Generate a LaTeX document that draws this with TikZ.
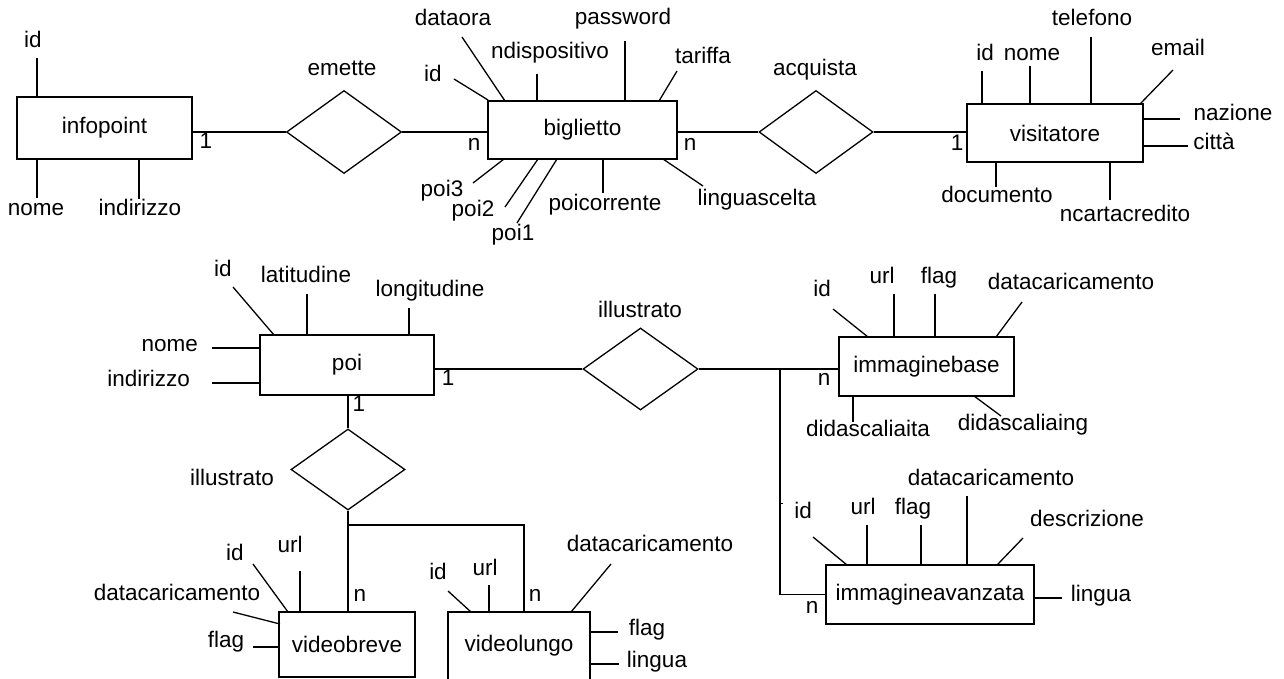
\documentclass[tikz,border=0pt]{standalone}
\usepackage{fontspec}
\setmainfont{Liberation Sans}
\usetikzlibrary{shapes.geometric}
\newcommand{\attrib}[5]{%
  \node[lbl] (#1) at (#2) {#3};
  \coordinate (#1-a) at (#4);
  \coordinate (#1-b) at (#5);
  \draw[conn] (#1-a) -- (#1-b);}
\begin{document}
\begin{tikzpicture}[x=1pt,y=-1pt,
  font=\fontsize{22.5}{27}\selectfont,
  conn/.style={line width=1.3pt, black},
  entity/.style={draw, line width=1.3pt, rectangle, inner sep=0pt},
  relation/.style={draw, line width=1.3pt, diamond, inner sep=0pt, aspect=1.4},
  lbl/.style={inner sep=0pt, text height=0.9em, text depth=0.24em},
  card/.style={lbl}]
\useasboundingbox (0,0) rectangle (1284,678);

% entities
\node[entity, minimum width=175pt, minimum height=62pt] (infopoint) at (104.5,128) {infopoint};
\node[entity, minimum width=189pt, minimum height=58pt] (biglietto) at (582.5,130) {biglietto};
\node[entity, minimum width=176pt, minimum height=58pt] (visitatore) at (1055,133) {visitatore};
\node[entity, minimum width=174pt, minimum height=60pt] (poi) at (347,365) {poi};
\node[entity, minimum width=175pt, minimum height=59pt] (imgbase) at (926.5,366.5) {immaginebase};
\node[entity, minimum width=208pt, minimum height=59pt] (imgadv) at (930,594.5) {immagineavanzata};
\node[entity, minimum width=136pt, minimum height=65pt] (vbreve) at (347,644.5) {videobreve};
\node[entity, minimum width=142pt, minimum height=68pt] (vlungo) at (519,646) {videolungo};

% relationships
\node[relation, minimum width=115pt, minimum height=83pt] (emette) at (344,132) {};
\node[relation, minimum width=114pt, minimum height=83pt] (acquista) at (816,132) {};
\node[relation, minimum width=115pt, minimum height=82pt] (illA) at (640.5,369) {};
\node[relation, minimum width=114pt, minimum height=81pt] (illB) at (348,469.5) {};

\node[lbl] (emettelbl) at (342,72) {emette};
\node[lbl] (acquistalbl) at (815,72) {acquista};
\node[lbl] (illAlbl) at (640,314) {illustrato};
\node[lbl] (illBlbl) at (232,482) {illustrato};

% connectors
\draw[conn] (emette.west) -- (emette.west -| infopoint.east);
\draw[conn] (emette.east) -- (emette.east -| biglietto.west);
\draw[conn] (acquista.west -| biglietto.east) -- (acquista.west);
\draw[conn] (acquista.east) -- (acquista.east -| visitatore.west);
\draw[conn] (illA.west -| poi.east) -- (illA.west);
\draw[conn] (illA.east) -- (illA.east -| imgbase.west);
\coordinate (brA) at (780,369);
\draw[conn] (brA) |- (imgadv.west);
\coordinate (tick) at (782.5,503);
\draw[line width=1pt] (780,503) -- (tick);
\draw[conn] (illB.north) -- (illB.north |- poi.south);
\draw[conn] (illB.south) -- (illB.south |- vbreve.north);
\coordinate (brB) at (348,525);
\coordinate (vltop) at (524,612);
\draw[conn] (brB) -| (vltop);

% cardinalities
\node[card] (c1) at (206,145) {1};
\node[card] (c2) at (474,147) {n};
\node[card] (c3) at (690,147) {n};
\node[card] (c4) at (957,147) {1};
\node[card] (c5) at (448,382) {1};
\node[card] (c6) at (359,408) {1};
\node[card] (c7) at (824,382) {n};
\node[card] (c8) at (812,610) {n};
\node[card] (c9) at (360,598) {n};
\node[card] (c10) at (535,598) {n};

% infopoint attributes
\attrib{ip-id}{33,44}{id}{37,58}{37,97}
\attrib{ip-nome}{36,212}{nome}{37,159}{37,198}
\attrib{ip-ind}{140,212}{indirizzo}{139,159}{139,199}

% biglietto attributes
\attrib{b-id}{433,78}{id}{454,79}{488,100}
\attrib{b-dataora}{453,22}{dataora}{462,37}{505,101}
\attrib{b-ndisp}{550,55}{ndispositivo}{537,74}{537,101}
\attrib{b-pwd}{623,21}{password}{625,41}{625,101}
\attrib{b-tariffa}{703,60}{tariffa}{677,71}{659,101}
\attrib{b-poi3}{442,193}{poi3}{473,183}{504,159}
\attrib{b-poi2}{473,213}{poi2}{505,207}{538,159}
\attrib{b-poi1}{513,237}{poi1}{517,223}{557,159}
\attrib{b-poicor}{605,207}{poicorrente}{603,159}{603,193}
\attrib{b-lingua}{757,202}{linguascelta}{663,159}{703,186}

% visitatore attributes
\attrib{v-id}{985,57}{id}{982,71}{982,104}
\attrib{v-nome}{1032,57}{nome}{1030,66}{1030,104}
\attrib{v-tel}{1092,22}{telefono}{1091,37}{1091,104}
\attrib{v-email}{1178,52}{email}{1173,70}{1140,104}
\attrib{v-naz}{1233,117}{nazione}{1143,119}{1180,119}
\attrib{v-citta}{1214,146}{città}{1143,146}{1188,146}
\attrib{v-doc}{997,199}{documento}{996,162}{996,187}
\attrib{v-ncc}{1125,218}{ncartacredito}{1110,162}{1110,200}

% poi attributes
\attrib{p-id}{223,273}{id}{233,287}{274,335}
\attrib{p-lat}{306,279}{latitudine}{307,294}{307,335}
\attrib{p-long}{430,293}{longitudine}{409,308}{409,335}
\node[lbl, anchor=east] (p-nome) at (198,348) {nome};
\coordinate (p-nome-a) at (212,348); \coordinate (p-nome-b) at (260,348);
\draw[conn] (p-nome-a) -- (p-nome-b);
\node[lbl, anchor=east] (p-ind) at (190,383) {indirizzo};
\coordinate (p-ind-a) at (212,383); \coordinate (p-ind-b) at (260,383);
\draw[conn] (p-ind-a) -- (p-ind-b);

% immaginebase attributes
\attrib{ib-id}{822,293}{id}{833,309}{868,337}
\attrib{ib-url}{882,280}{url}{894,294}{894,337}
\attrib{ib-flag}{939,280}{flag}{935,294}{935,337}
\attrib{ib-data}{1071,286}{datacaricamento}{1022,302}{996,337}
\attrib{ib-dita}{868,433}{didascaliaita}{853,396}{853,422}
\attrib{ib-ding}{1023,427}{didascaliaing}{974,396}{1001,416}

% immagineavanzata attributes
\attrib{ia-id}{803,515}{id}{813,537}{847,565}
\attrib{ia-url}{863,511}{url}{867,525}{867,565}
\attrib{ia-flag}{913,511}{flag}{921,525}{921,565}
\attrib{ia-data}{991,482}{datacaricamento}{967,496}{967,565}
\attrib{ia-desc}{1087,523}{descrizione}{1023,538}{997,565}
\attrib{ia-lingua}{1101,598}{lingua}{1034,598}{1062,598}

% videobreve attributes
\attrib{vb-id}{235,557}{id}{253,564}{288,612}
\attrib{vb-url}{290,549}{url}{300,571}{300,612}
\attrib{vb-data}{177,597}{datacaricamento}{233,612}{280,624}
\attrib{vb-flag}{226,644}{flag}{253,647}{279,647}

% videolungo attributes
\attrib{vl-id}{438,576}{id}{448,591}{471,612}
\attrib{vl-url}{485,572}{url}{489,585}{489,612}
\attrib{vl-data}{650,548}{datacaricamento}{611,564}{571,612}
\attrib{vl-flag}{647,632}{flag}{590,632}{618,632}
\attrib{vl-lingua}{657,664}{lingua}{590,664}{619,664}
\end{tikzpicture}
\end{document}
